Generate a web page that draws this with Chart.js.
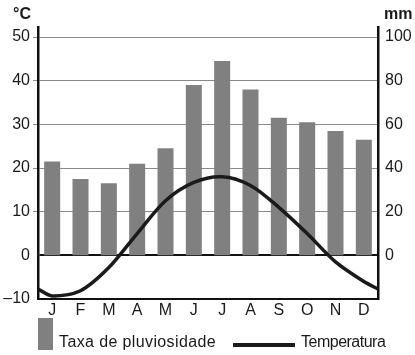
<!DOCTYPE html>
<html>
<head>
<meta charset="utf-8">
<script src="https://cdn.jsdelivr.net/npm/chart.js@4.4.0/dist/chart.umd.min.js"></script>
<style>
  html, body { margin: 0; padding: 0; background: #fff; }
  #wrap { position: relative; width: 415px; height: 355px; font-family: "Liberation Sans", Arial, sans-serif; }
  canvas { position: absolute; left: 0; top: 0; }
  .lgtxt { position: absolute; line-height: 17px; font-size: 16px; color: #1a1a1a; white-space: nowrap; }
</style>
</head>
<body>
<div id="wrap">
  <canvas id="c" width="415" height="355"></canvas>
  <div style="position:absolute;left:38px;top:318px;width:15px;height:32px;background:#808080;"></div>
  <div class="lgtxt" style="left:59px;top:333px;letter-spacing:0.38px;">Taxa de pluviosidade</div>
  <div style="position:absolute;left:233px;top:343px;width:62px;height:3.5px;background:#1a1a1a;"></div>
  <div class="lgtxt" style="left:301px;top:333px;letter-spacing:-0.5px;">Temperatura</div>
</div>
<script>
const months = ['J','F','M','A','M','J','J','A','S','O','N','D'];
const rainfall = [43, 35, 33, 42, 49, 78, 89, 76, 63, 61, 57, 53];          // mm
const temperature = [-9.3, -8.1, -2.8, 5.0, 12.5, 16.7, 18.0, 16.0, 11.0, 5.0, -1.5, -6.0]; // °C
const tempYearEdge = -7.7; // value at the start/end of the year
const tempTicks = [-10, 0, 10, 20, 30, 40, 50];
const rainTicks = [0, 20, 40, 60, 80, 100];

const lineData = [{x: 0, y: tempYearEdge}]
  .concat(temperature.map((t, i) => ({x: i + 0.5, y: t})))
  .concat([{x: months.length, y: tempYearEdge}]);

const FONT = "'Liberation Sans', Arial, sans-serif";

const unitLabels = {
  id: 'unitLabels',
  afterDraw(chart) {
    const ctx = chart.ctx, a = chart.chartArea;
    ctx.save();
    ctx.fillStyle = '#1a1a1a';
    ctx.font = 'bold 16px ' + FONT;
    ctx.textBaseline = 'alphabetic';
    ctx.textAlign = 'right';
    ctx.fillText('°C', a.left - 7, 18.5);
    ctx.textAlign = 'left';
    ctx.fillText('mm', a.right + 6, 18.5);
    ctx.restore();
  }
};

new Chart(document.getElementById('c'), {
  data: {
    labels: months,
    datasets: [
      {
        type: 'line',
        label: 'Temperatura',
        data: lineData,
        xAxisID: 'xl',
        yAxisID: 'yL',
        borderColor: '#1a1a1a',
        borderWidth: 3.5,
        pointRadius: 0,
        tension: 0.3,
        fill: false,
        order: 0
      },
      {
        type: 'bar',
        label: 'Taxa de pluviosidade',
        data: rainfall,
        xAxisID: 'x',
        yAxisID: 'yR',
        backgroundColor: '#808080',
        borderWidth: 0,
        grouped: false,
        categoryPercentage: 1,
        barPercentage: 0.565,
        order: 1
      }
    ]
  },
  options: {
    responsive: false,
    animation: false,
    layout: { padding: { top: 27, left: 0, right: 0, bottom: 0 } },
    plugins: { legend: { display: false }, tooltip: { enabled: false } },
    scales: {
      x: {
        type: 'category',
        offset: true,
        grid: { display: false, drawTicks: false, tickLength: 0 },
        border: { display: true, color: '#111', width: 2 },
        ticks: { color: '#1a1a1a', font: { family: FONT, size: 16 }, padding: 2, maxRotation: 0, autoSkip: false },
        afterFit(s) { s.height = 56; }
      },
      xl: {
        type: 'linear',
        display: false,
        min: 0,
        max: months.length
      },
      yL: {
        type: 'linear',
        position: 'left',
        min: -10,
        max: 52.3,
        afterBuildTicks(s) { s.ticks = tempTicks.map(v => ({value: v})); },
        grid: {
          color: c => (c.tick && c.tick.value === 0) ? '#111' : (c.tick && c.tick.value === -10 ? 'rgba(0,0,0,0)' : '#8a8a8a'),
          lineWidth: c => (c.tick && c.tick.value === 0) ? 2 : 1,
          tickColor: c => (c.tick && (c.tick.value === 0 || c.tick.value === -10)) ? 'rgba(0,0,0,0)' : '#8a8a8a',
          tickLength: 5,
          drawTicks: true
        },
        border: { display: true, color: '#111', width: 2.5 },
        ticks: {
          color: '#1a1a1a',
          font: { family: FONT, size: 16 },
          padding: 3,
          callback: v => v < 0 ? '–' + Math.abs(v) : String(v)
        },
        afterFit(s) { s.width = 38; }
      },
      yR: {
        type: 'linear',
        position: 'right',
        min: -20,
        max: 104.6,
        afterBuildTicks(s) { s.ticks = rainTicks.map(v => ({value: v})); },
        grid: { display: false, drawTicks: false, tickLength: 0 },
        border: { display: true, color: '#111', width: 2.5 },
        ticks: {
          color: '#1a1a1a',
          font: { family: FONT, size: 16 },
          padding: 7
        },
        afterFit(s) { s.width = 37; }
      }
    }
  },
  plugins: [unitLabels]
});
</script>
</body>
</html>
